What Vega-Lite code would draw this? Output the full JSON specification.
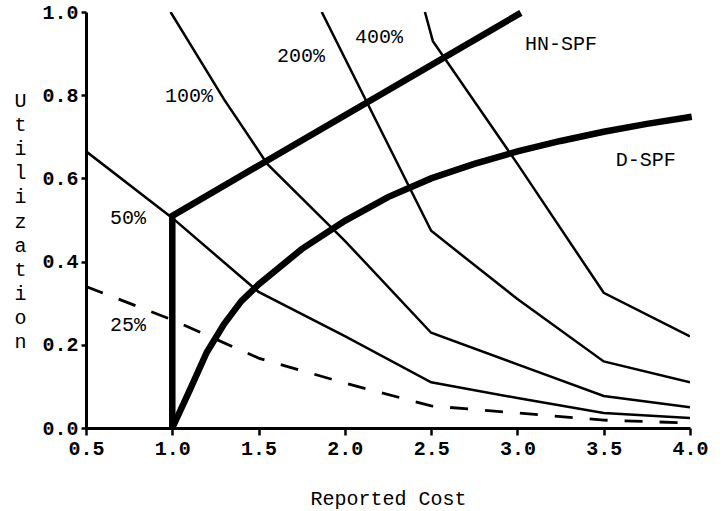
{
  "$schema": "https://vega.github.io/schema/vega-lite/v6.json",
  "width": 604,
  "height": 416,
  "autosize": "none",
  "padding": {"left": 86, "top": 12, "right": 33, "bottom": 83},
  "background": "white",
  "config": {
    "view": {"stroke": null},
    "font": "Liberation Mono",
    "axis": {
      "grid": false,
      "domainColor": "black",
      "domainWidth": 3,
      "tickColor": "black",
      "tickWidth": 2.5,
      "labelColor": "black",
      "labelFont": "Liberation Mono",
      "labelFontSize": 20,
      "labelFontWeight": "bold",
      "titleFont": "Liberation Mono",
      "titleFontSize": 20,
      "titleFontWeight": "normal",
      "titleColor": "black"
    }
  },
  "datasets": {
    "curves": [
      {"series": "25%", "i": 0, "x": 0.5, "y": 0.34},
      {"series": "25%", "i": 1, "x": 1.0, "y": 0.26},
      {"series": "25%", "i": 2, "x": 1.5, "y": 0.168},
      {"series": "25%", "i": 3, "x": 2.0, "y": 0.108},
      {"series": "25%", "i": 4, "x": 2.5, "y": 0.053},
      {"series": "25%", "i": 5, "x": 3.0, "y": 0.036},
      {"series": "25%", "i": 6, "x": 3.5, "y": 0.019},
      {"series": "25%", "i": 7, "x": 4.0, "y": 0.012},
      {"series": "50%", "i": 0, "x": 0.5, "y": 0.665},
      {"series": "50%", "i": 1, "x": 1.0, "y": 0.505},
      {"series": "50%", "i": 2, "x": 1.5, "y": 0.327},
      {"series": "50%", "i": 3, "x": 2.0, "y": 0.221},
      {"series": "50%", "i": 4, "x": 2.5, "y": 0.11},
      {"series": "50%", "i": 5, "x": 3.0, "y": 0.072},
      {"series": "50%", "i": 6, "x": 3.5, "y": 0.036},
      {"series": "50%", "i": 7, "x": 4.0, "y": 0.024},
      {"series": "100%", "i": 0, "x": 0.99, "y": 1.0},
      {"series": "100%", "i": 1, "x": 1.3, "y": 0.79},
      {"series": "100%", "i": 2, "x": 1.55, "y": 0.635},
      {"series": "100%", "i": 3, "x": 2.0, "y": 0.45},
      {"series": "100%", "i": 4, "x": 2.5, "y": 0.229},
      {"series": "100%", "i": 5, "x": 3.0, "y": 0.153},
      {"series": "100%", "i": 6, "x": 3.5, "y": 0.077},
      {"series": "100%", "i": 7, "x": 4.0, "y": 0.05},
      {"series": "200%", "i": 0, "x": 1.866, "y": 1.0},
      {"series": "200%", "i": 1, "x": 2.5, "y": 0.474},
      {"series": "200%", "i": 2, "x": 3.0, "y": 0.31},
      {"series": "200%", "i": 3, "x": 3.5, "y": 0.16},
      {"series": "200%", "i": 4, "x": 4.0, "y": 0.11},
      {"series": "400%", "i": 0, "x": 2.464, "y": 1.0},
      {"series": "400%", "i": 1, "x": 2.51, "y": 0.93},
      {"series": "400%", "i": 2, "x": 3.0, "y": 0.635},
      {"series": "400%", "i": 3, "x": 3.5, "y": 0.325},
      {"series": "400%", "i": 4, "x": 4.0, "y": 0.22},
      {"series": "HN-SPF", "i": 0, "x": 1.0, "y": 0.0},
      {"series": "HN-SPF", "i": 1, "x": 1.0, "y": 0.51},
      {"series": "HN-SPF", "i": 2, "x": 3.02, "y": 0.998},
      {"series": "D-SPF", "i": 0, "x": 1.0, "y": 0.0},
      {"series": "D-SPF", "i": 1, "x": 1.1, "y": 0.09},
      {"series": "D-SPF", "i": 2, "x": 1.2, "y": 0.182},
      {"series": "D-SPF", "i": 3, "x": 1.3, "y": 0.25},
      {"series": "D-SPF", "i": 4, "x": 1.4, "y": 0.305},
      {"series": "D-SPF", "i": 5, "x": 1.5, "y": 0.345},
      {"series": "D-SPF", "i": 6, "x": 1.75, "y": 0.43},
      {"series": "D-SPF", "i": 7, "x": 2.0, "y": 0.498},
      {"series": "D-SPF", "i": 8, "x": 2.25, "y": 0.555},
      {"series": "D-SPF", "i": 9, "x": 2.5, "y": 0.6},
      {"series": "D-SPF", "i": 10, "x": 2.75, "y": 0.635},
      {"series": "D-SPF", "i": 11, "x": 3.0, "y": 0.665},
      {"series": "D-SPF", "i": 12, "x": 3.25, "y": 0.69},
      {"series": "D-SPF", "i": 13, "x": 3.5, "y": 0.712},
      {"series": "D-SPF", "i": 14, "x": 3.75, "y": 0.731},
      {"series": "D-SPF", "i": 15, "x": 4.01, "y": 0.748}
    ],
    "labels": [
      {"label": "100%", "x": 1.097, "y": 0.798},
      {"label": "200%", "x": 1.746, "y": 0.894},
      {"label": "400%", "x": 2.198, "y": 0.94},
      {"label": "50%", "x": 0.743, "y": 0.505},
      {"label": "25%", "x": 0.743, "y": 0.248},
      {"label": "HN-SPF", "x": 3.252, "y": 0.924},
      {"label": "D-SPF", "x": 3.744, "y": 0.644}
    ]
  },
  "encoding": {
    "x": {
      "field": "x",
      "type": "quantitative",
      "scale": {"domain": [0.5, 4.0], "nice": false, "zero": false},
      "axis": {
        "title": "Reported Cost",
        "values": [0.5, 1.0, 1.5, 2.0, 2.5, 3.0, 3.5, 4.0],
        "format": ".1f",
        "tickSize": 7,
        "labelPadding": 3,
        "labelFlush": false,
        "titleY": 70,
        "titleBaseline": "middle"
      }
    },
    "y": {
      "field": "y",
      "type": "quantitative",
      "scale": {"domain": [0, 1], "nice": false},
      "axis": {
        "title": ["U", "t", "i", "l", "i", "z", "a", "t", "i", "o", "n"],
        "titleAngle": 0,
        "titleAlign": "center",
        "titleBaseline": "middle",
        "titleLineHeight": 24.2,
        "titleX": -66,
        "titleY": 88,
        "values": [0, 0.2, 0.4, 0.6, 0.8, 1.0],
        "format": ".1f",
        "tickSize": 5,
        "labelPadding": 3,
        "labelFlush": false
      }
    }
  },
  "layer": [
    {
      "data": {"name": "curves"},
      "transform": [{"filter": "indexof(['50%','100%','200%','400%'], datum.series) >= 0"}],
      "mark": {"type": "line", "color": "black", "strokeWidth": 2.5, "clip": true},
      "encoding": {"detail": {"field": "series"}, "order": {"field": "i"}}
    },
    {
      "data": {"name": "curves"},
      "transform": [{"filter": "datum.series == '25%'"}],
      "mark": {"type": "line", "color": "black", "strokeWidth": 2.8, "strokeDash": [18, 17], "clip": true},
      "encoding": {"order": {"field": "i"}}
    },
    {
      "data": {"name": "curves"},
      "transform": [{"filter": "datum.series == 'HN-SPF' || datum.series == 'D-SPF'"}],
      "mark": {"type": "line", "color": "black", "strokeWidth": 6.5, "clip": false},
      "encoding": {"detail": {"field": "series"}, "order": {"field": "i"}}
    },
    {
      "data": {"name": "labels"},
      "mark": {"type": "text", "font": "Liberation Mono", "fontSize": 20, "color": "black", "align": "center", "baseline": "middle"},
      "encoding": {"text": {"field": "label"}}
    }
  ]
}
